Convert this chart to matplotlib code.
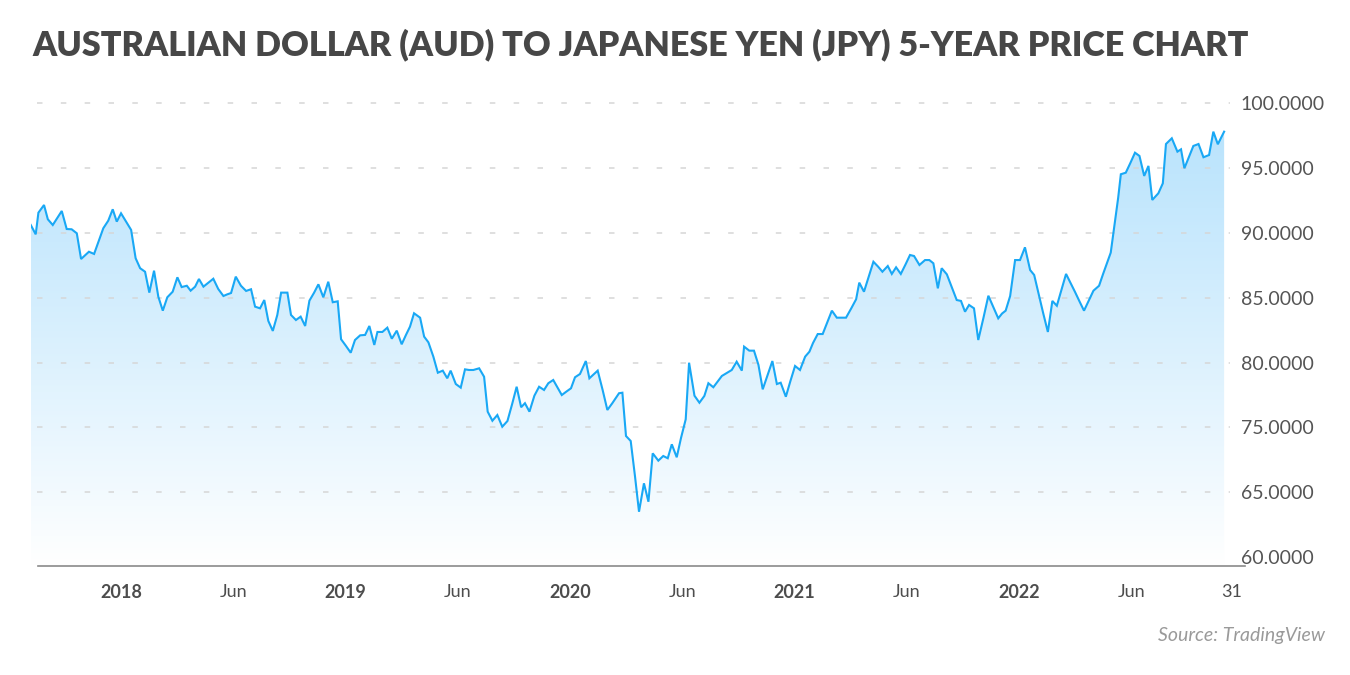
import numpy as np
import matplotlib
matplotlib.use("Agg")
import matplotlib.pyplot as plt
from matplotlib.path import Path
from matplotlib.ticker import NullLocator

# ---------------- data (decimal year, AUD/JPY weekly close) ----------------
dates = [
    2017.598, 2017.620, 2017.632, 2017.657, 2017.674, 2017.696, 2017.736, 2017.758, 2017.780, 2017.803,
    2017.822, 2017.857, 2017.880, 2017.921, 2017.943, 2017.963, 2017.981, 2018.000, 2018.045, 2018.065,
    2018.085, 2018.107, 2018.126, 2018.147, 2018.166, 2018.186, 2018.206, 2018.230, 2018.251, 2018.270,
    2018.293, 2018.310, 2018.330, 2018.347, 2018.367, 2018.389, 2018.411, 2018.433, 2018.456, 2018.472,
    2018.490, 2018.511, 2018.534, 2018.557, 2018.579, 2018.597, 2018.619, 2018.638, 2018.656, 2018.676,
    2018.696, 2018.713, 2018.741, 2018.757, 2018.779, 2018.800, 2018.820, 2018.839, 2018.860, 2018.879,
    2018.901, 2018.923, 2018.943, 2018.965, 2018.980, 2019.002, 2019.023, 2019.042, 2019.065, 2019.087,
    2019.106, 2019.128, 2019.142, 2019.164, 2019.186, 2019.206, 2019.228, 2019.250, 2019.269, 2019.287,
    2019.305, 2019.332, 2019.350, 2019.369, 2019.391, 2019.411, 2019.433, 2019.453, 2019.468, 2019.491,
    2019.513, 2019.532, 2019.550, 2019.569, 2019.595, 2019.617, 2019.633, 2019.654, 2019.676, 2019.698,
    2019.721, 2019.742, 2019.762, 2019.782, 2019.799, 2019.819, 2019.841, 2019.862, 2019.884, 2019.903,
    2019.925, 2019.944, 2019.963, 2019.983, 2020.004, 2020.022, 2020.044, 2020.070, 2020.086, 2020.104,
    2020.123, 2020.145, 2020.166, 2020.188, 2020.218, 2020.233, 2020.249, 2020.270, 2020.289, 2020.307,
    2020.329, 2020.349, 2020.368, 2020.393, 2020.415, 2020.435, 2020.453, 2020.475, 2020.494, 2020.515,
    2020.530, 2020.554, 2020.576, 2020.598, 2020.616, 2020.638, 2020.657, 2020.676, 2020.698, 2020.720,
    2020.742, 2020.765, 2020.775, 2020.798, 2020.819, 2020.839, 2020.858, 2020.880, 2020.901, 2020.921,
    2020.938, 2020.961, 2020.981, 2021.002, 2021.024, 2021.047, 2021.066, 2021.082, 2021.103, 2021.125,
    2021.146, 2021.166, 2021.188, 2021.209, 2021.229, 2021.252, 2021.274, 2021.288, 2021.309, 2021.328,
    2021.351, 2021.372, 2021.391, 2021.415, 2021.433, 2021.452, 2021.473, 2021.494, 2021.514, 2021.532,
    2021.556, 2021.581, 2021.600, 2021.618, 2021.638, 2021.655, 2021.678, 2021.700, 2021.722, 2021.741,
    2021.759, 2021.777, 2021.799, 2021.818, 2021.841, 2021.863, 2021.885, 2021.907, 2021.924, 2021.940,
    2021.960, 2021.982, 2022.004, 2022.026, 2022.049, 2022.067, 2022.087, 2022.107, 2022.128, 2022.148,
    2022.168, 2022.188, 2022.209, 2022.229, 2022.249, 2022.269, 2022.289, 2022.310, 2022.331, 2022.356,
    2022.374, 2022.392, 2022.408, 2022.427, 2022.441, 2022.453, 2022.475, 2022.496, 2022.516, 2022.536,
    2022.557, 2022.576, 2022.593, 2022.620, 2022.640, 2022.654, 2022.680, 2022.705, 2022.721, 2022.736,
    2022.756, 2022.776, 2022.799, 2022.821, 2022.846, 2022.865, 2022.885, 2022.913,
]
prices = [
    90.60, 89.88, 91.55, 92.14, 91.04, 90.60, 91.68, 90.29, 90.27, 89.96,
    87.98, 88.54, 88.37, 90.35, 90.93, 91.81, 90.86, 91.50, 90.22, 88.04,
    87.27, 87.00, 85.39, 87.08, 85.08, 84.00, 85.03, 85.46, 86.57, 85.82,
    85.92, 85.54, 85.85, 86.44, 85.85, 86.16, 86.46, 85.67, 85.13, 85.25,
    85.36, 86.62, 85.92, 85.52, 85.65, 84.31, 84.18, 84.82, 83.21, 82.44,
    83.67, 85.39, 85.39, 83.67, 83.28, 83.54, 82.82, 84.77, 85.39, 86.03,
    85.03, 86.23, 84.65, 84.72, 81.80, 81.28, 80.76, 81.74, 82.10, 82.13,
    82.82, 81.36, 82.36, 82.36, 82.69, 81.84, 82.46, 81.41, 82.13, 82.77,
    83.80, 83.46, 82.00, 81.56, 80.46, 79.22, 79.38, 78.79, 79.38, 78.35,
    78.07, 79.48, 79.43, 79.43, 79.56, 78.91, 76.22, 75.52, 75.96, 75.06,
    75.50, 76.81, 78.14, 76.56, 76.87, 76.22, 77.45, 78.14, 77.89, 78.41,
    78.66, 78.08, 77.50, 77.76, 78.02, 78.87, 79.12, 80.12, 78.79, 79.08,
    79.38, 77.89, 76.35, 76.87, 77.64, 77.68, 73.69, 72.92, 67.52, 63.51,
    66.40, 64.28, 71.02, 69.89, 70.61, 70.26, 72.41, 70.41, 73.38, 75.63,
    79.99, 77.45, 76.91, 77.43, 78.41, 78.10, 78.54, 78.97, 79.20, 79.43,
    80.07, 79.38, 81.23, 80.92, 80.92, 79.82, 77.94, 79.05, 80.12, 78.35,
    78.45, 77.37, 78.56, 79.74, 79.43, 80.46, 80.84, 81.51, 82.20, 82.20,
    83.13, 84.00, 83.46, 83.46, 83.46, 84.17, 84.88, 86.16, 85.46, 86.50,
    87.77, 87.39, 87.00, 87.44, 86.83, 87.34, 86.83, 87.56, 88.29, 88.21,
    87.52, 87.90, 87.90, 87.65, 85.72, 87.27, 86.80, 85.82, 84.82, 84.75,
    83.92, 84.44, 84.18, 81.74, 83.44, 85.15, 84.28, 83.41, 83.78, 84.00,
    85.13, 87.90, 87.90, 88.88, 87.13, 86.75, 85.29, 83.82, 82.36, 84.75,
    84.38, 85.59, 86.83, 86.13, 85.44, 84.71, 84.00, 84.77, 85.54, 85.92,
    86.83, 87.71, 88.47, 90.86, 92.68, 94.51, 94.63, 95.40, 96.17, 95.92,
    94.38, 95.15, 92.53, 93.04, 93.81, 96.84, 97.28, 96.25, 96.43, 94.97,
    95.84, 96.69, 96.84, 95.82, 95.99, 97.79, 96.82, 97.79,
]

y_ticks = [100, 95, 90, 85, 80, 75, 65, 60]
y_grid = [100, 95, 90, 85, 80, 75, 65]
y_tick_labels = [f"{v:.4f}" for v in y_ticks]
x_tick_pos = [2018, 2018.5, 2019, 2019.5, 2020, 2020.5, 2021, 2021.5, 2022, 2022.5, 2022.948]
x_tick_labels = ["2018", "Jun", "2019", "Jun", "2020", "Jun", "2021", "Jun", "2022", "Jun", "31"]
title = "AUSTRALIAN DOLLAR (AUD) TO JAPANESE YEN (JPY) 5-YEAR PRICE CHART"
source = "Source: TradingView"

# broken price scale as in the original (75 -> 65 is compressed)
def fwd(v):
    v = np.asarray(v, dtype=float)
    return np.where(v >= 75, v, np.where(v >= 65, 75 - (75 - v) / 2.0, v + 5))

def inv(u):
    u = np.asarray(u, dtype=float)
    return np.where(u >= 75, u, np.where(u >= 70, 75 - 2.0 * (75 - u), u - 5))

W, H = 1350, 675
fig = plt.figure(figsize=(W / 100, H / 100), dpi=100)
fig.patch.set_facecolor("white")

ax_l, ax_r, ax_top, ax_bot = 31, 1245, 90, 566
ax = fig.add_axes([ax_l / W, 1 - ax_bot / H, (ax_r - ax_l) / W, (ax_bot - ax_top) / H])
ax.set_yscale("function", functions=(fwd, inv))
ymin, ymax = 59.33, 101.0
ax.set_xlim(2017.599, 2023.006)
ax.set_ylim(ymin, ymax)
ax.set_facecolor("none")

# gradient area fill clipped to the price polygon
xs = np.array(dates)
ys = np.array(prices)
verts = np.vstack([[xs[0], ymin], np.column_stack([xs, ys]), [xs[-1], ymin], [xs[0], ymin]])
clip = Path(verts, closed=True)
n = 256
g = np.linspace(0, 1, n) ** 1.1
top_c = np.array([0.71, 0.885, 0.99])
rgba = np.ones((n, 1, 4))
for k in range(3):
    rgba[:, 0, k] = top_c[k] + (1 - top_c[k]) * g
im = ax.imshow(rgba, extent=[0, 1, 0, 1], transform=ax.transAxes, aspect="auto",
               origin="upper", zorder=1, interpolation="bilinear")
im.set_clip_path(clip, ax.transData)

# dashed grid
ax.hlines(y_grid, 2017.626, 2022.939, colors="#d6d6d6", linewidth=1.1,
          linestyles=[(0, (3.6, 12))], zorder=2)

# price line
ax.plot(xs, ys, color="#19a8f5", linewidth=1.5, zorder=4, solid_joinstyle="miter")

for s in ["top", "left", "right"]:
    ax.spines[s].set_visible(False)
ax.spines["bottom"].set_color("#8a8a8a")
ax.spines["bottom"].set_linewidth(1.2)
ax.spines["bottom"].set_bounds(2017.630, 2023.006)

ax.set_xticks(x_tick_pos, x_tick_labels)
ax.tick_params(axis="x", length=0, pad=13, labelsize=13, labelcolor="#4d4d4d")
for lab in ax.get_xticklabels():
    lab.set_family("Lato")
    if lab.get_text().isdigit() and len(lab.get_text()) == 4:
        lab.set_fontweight("bold")

ax.yaxis.tick_right()
ax.set_yticks(y_ticks, y_tick_labels)
ax.yaxis.set_minor_locator(NullLocator())
ax.tick_params(axis="y", length=0, pad=-3, labelsize=14, labelcolor="#555555")
for lab in ax.get_yticklabels():
    lab.set_family("Lato")

fig.text(32 / W, 1 - 45 / H, title, fontsize=24.6, fontweight="heavy", family="Lato",
         color="#474747", ha="left", va="center")
fig.text(1325 / W, 1 - 636 / H, source, fontsize=14, style="italic", family="Lato",
         color="#9a9a9a", ha="right", va="center")

fig.savefig("out.png", dpi=100, facecolor="white")
